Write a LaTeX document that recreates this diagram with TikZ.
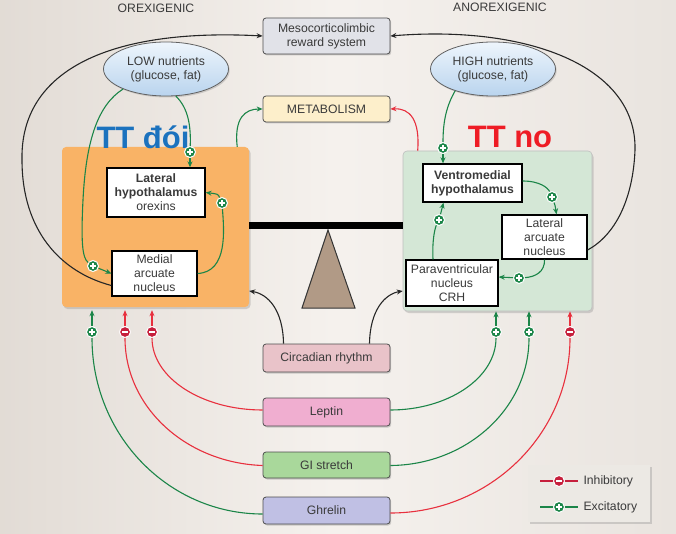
\documentclass[tikz,border=0pt]{standalone}
\usepackage{fontspec}
\setmainfont{Liberation Sans}
\usetikzlibrary{arrows.meta,shapes.geometric,shadows,calc}
\definecolor{grn}{HTML}{1B8548}
\definecolor{rd}{HTML}{E8303E}
\definecolor{crim}{HTML}{C61F3C}
\definecolor{txt}{HTML}{3A3A3A}
\definecolor{mesofill}{HTML}{E1E2E8}
\definecolor{metafill}{HTML}{FDEFCB}
\definecolor{orng}{HTML}{F9B366}
\definecolor{lgreen}{HTML}{D4E7D6}
\definecolor{circfill}{HTML}{E9C3C9}
\definecolor{lepfill}{HTML}{F0AED0}
\definecolor{gifill}{HTML}{A9D89B}
\definecolor{ghrfill}{HTML}{C0C0E4}
\definecolor{tanfill}{HTML}{B19A86}
\definecolor{ttblue}{HTML}{1B72BE}
\definecolor{ttred}{HTML}{EE1C25}
\definecolor{legfill}{HTML}{ECE9E4}
\definecolor{nuttop}{HTML}{EEF5FC}
\definecolor{nutbot}{HTML}{B9D4EE}
\begin{document}
\begin{tikzpicture}[x=1pt,y=-1pt,
  lbl/.style={draw=txt!90, line width=0.8pt, rounded corners=3pt, inner sep=0pt, align=center,
    text=txt, font=\fontsize{12.2}{14}\selectfont,
    drop shadow={opacity=0.35, shadow xshift=1.2pt, shadow yshift=-1.5pt}},
  nut/.style={ellipse, draw=txt!80, line width=0.8pt, inner sep=0pt, align=center, text=txt,
    top color=nuttop, bottom color=nutbot,
    minimum width=125pt, minimum height=54pt, font=\fontsize{12.2}{14}\selectfont,
    drop shadow={opacity=0.3, shadow xshift=1.2pt, shadow yshift=-1.5pt}},
  bigbox/.style={rounded corners=4pt, inner sep=0pt,
    drop shadow={opacity=0.3, shadow xshift=1.5pt, shadow yshift=-2pt}},
  wbox/.style={draw=black, line width=1.3pt, fill=white, inner sep=0pt, align=center, text=txt,
    font=\fontsize{12.2}{14}\selectfont},
  exc/.style={circle, fill=grn, draw=white, line width=1pt, minimum size=11pt, inner sep=0pt,
    path picture={\draw[white,line width=1.5pt]
      ([xshift=-2.7pt]path picture bounding box.center) -- ([xshift=2.7pt]path picture bounding box.center)
      ([yshift=-2.7pt]path picture bounding box.center) -- ([yshift=2.7pt]path picture bounding box.center);}},
  inh/.style={circle, fill=crim, draw=white, line width=1pt, minimum size=11pt, inner sep=0pt,
    path picture={\draw[white,line width=1.5pt]
      ([xshift=-2.7pt]path picture bounding box.center) -- ([xshift=2.7pt]path picture bounding box.center);}},
  tip/.style={-{Stealth[length=6pt,width=5pt]}},
  gline/.style={draw=grn, line width=1.1pt},
  rline/.style={draw=rd, line width=1.1pt},
  kline/.style={draw=black!85, line width=1.1pt}
]
% background
\useasboundingbox (0,0) rectangle (676,534);
\shade[left color=black!12!white!95!orange, right color=black!9!white!96!orange, middle color=black!4!white!97!orange] (0,0) rectangle (676,534);

% headings
\node[text=txt, font=\fontsize{12.2}{14}\selectfont] (orex) at (156,8) {OREXIGENIC};
\node[text=txt, font=\fontsize{12.2}{14}\selectfont] (anorex) at (500,7) {ANOREXIGENIC};

% top boxes
\node[lbl, fill=mesofill, minimum width=127pt, minimum height=36pt] (meso) at (326.5,36) {Mesocorticolimbic\\reward system};
\node[lbl, fill=metafill, minimum width=127pt, minimum height=26pt] (metab) at (326.5,109) {METABOLISM};
\node[nut] (low) at (166,69) {LOW nutrients\\(glucose, fat)};
\node[nut] (high) at (493,69) {HIGH nutrients\\(glucose, fat)};

% big boxes
\node[bigbox, fill=orng, minimum width=187pt, minimum height=160pt] (leftbox) at (155.5,227) {};
\node[bigbox, fill=lgreen, draw=black!25, line width=0.6pt, minimum width=189pt, minimum height=160pt] (rightbox) at (497.5,231) {};

% balance
\node[fill=black, inner sep=0pt, minimum width=154pt, minimum height=7pt] (beam) at (326,225.5) {};
\draw[fill=tanfill, draw=black!80, line width=1pt] (328,230) -- (302,308) -- (355,308) -- cycle;

% titles
\node[text=ttblue, font=\fontsize{31}{31}\selectfont\bfseries] (ttd) at (143,137) {TT đói};
\node[text=ttred, font=\fontsize{31}{31}\selectfont\bfseries] (ttn) at (510,137) {TT no};

% inner boxes
\node[wbox, minimum width=98pt, minimum height=49pt] (lh) at (156,192.5) {\textbf{Lateral}\\\textbf{hypothalamus}\\orexins};
\node[wbox, minimum width=85pt, minimum height=45pt] (mac) at (154.5,273.5) {Medial\\arcuate\\nucleus};
\node[wbox, minimum width=99pt, minimum height=38pt] (vmh) at (472.5,183) {\textbf{Ventromedial}\\\textbf{hypothalamus}};
\node[wbox, minimum width=85pt, minimum height=44pt] (lan) at (544.5,237) {Lateral\\arcuate\\nucleus};
\node[wbox, minimum width=92pt, minimum height=46pt] (pvn) at (452,283) {Paraventricular\\nucleus\\CRH};

% bottom boxes
\node[lbl, fill=circfill, minimum width=127pt, minimum height=28pt] (circ) at (326.5,358) {Circadian rhythm};
\node[lbl, fill=lepfill, minimum width=127pt, minimum height=28pt] (lep) at (326.5,412) {Leptin};
\node[lbl, fill=gifill, minimum width=127pt, minimum height=26pt] (gis) at (326.5,465) {GI stretch};
\node[lbl, fill=ghrfill, minimum width=127pt, minimum height=27pt] (ghr) at (326.5,510.5) {Ghrelin};

% legend
\node[fill=legfill, inner sep=0pt, minimum width=122pt, minimum height=57pt,
  drop shadow={opacity=0.3, shadow xshift=1.5pt, shadow yshift=-2pt}] (legend) at (589,493.5) {};

% markers
\node[exc] (p1) at (190,152) {};
\node[exc] (p2) at (93,266) {};
\node[exc] (p3) at (222,203) {};
\node[exc] (p4) at (443,148) {};
\node[exc] (p5) at (552,197) {};
\node[exc] (p6) at (519,278) {};
\node[exc] (p7) at (439,220) {};
\node[inh] (m1) at (152,332) {};
\node[inh] (m2) at (125,332) {};
\node[exc] (m3) at (92,332) {};
\node[exc] (r1) at (496,332) {};
\node[exc] (r2) at (529,332) {};
\node[inh] (r3) at (570,332) {};

% reward-system loops
\draw[kline, tip] ([yshift=-12pt]mac.west) .. controls (60,272) and (22,230) .. (22,160)
   .. controls (20,70) and (110,28) .. (meso.west);
\draw[kline, tip] ([yshift=-13pt]lan.east) .. controls (615,235) and (633,200) .. (635,150)
   .. controls (637,65) and (525,25) .. (meso.east);

% left circuit
\draw[gline] (low.-70) .. controls (188,108) and (191,125) .. (p1);
\draw[gline, tip] (p1) -- (p1 |- lh.north);
\draw[gline] (low.-155) .. controls (98,105) and (86,140) .. (83,200) .. controls (81,240) and (82,258) .. (p2);
\draw[gline, tip] (p2) -- (mac.west);
\draw[gline] (mac.east) .. controls (228,272) and (224,230) .. (p3);
\draw[gline, tip] (p3) .. controls (218,194) .. (lh.east);
\draw[gline, tip] ([xshift=-12pt]leftbox.north east) .. controls (234,118) and (245,109) .. (metab.west);

% right circuit
\draw[rline, tip] ([xshift=15pt]rightbox.north west) .. controls (420,120) and (410,108) .. (metab.east);
\draw[gline] (high.-150) .. controls (447,105) and (443,120) .. (p4);
\draw[gline, tip] (p4) -- (p4 |- vmh.north);
\draw[gline] ([yshift=2pt]vmh.east) .. controls (540,181) and (548,188) .. (p5);
\draw[gline, tip] (p5) .. controls (555,205) .. ([xshift=12pt]lan.north);
\draw[gline] (lan.south) .. controls (545,272) and (535,277) .. (p6);
\draw[gline, tip] (p6) -- ([yshift=6pt]pvn.east);
\draw[gline] ([xshift=-19pt]pvn.north) .. controls (432,240) and (435,228) .. (p7);
\draw[gline, tip] (p7) -- ([xshift=-29pt]vmh.south);

% circadian
\draw[kline, tip] ([xshift=-43pt]circ.north) .. controls (283,310) and (268,294) .. ([yshift=-64pt]leftbox.east);
\draw[kline, tip] ([xshift=43pt]circ.north) .. controls (370,310) and (385,294) .. ([yshift=-60pt]rightbox.west);

% hormonal inputs
\draw[rline] ([yshift=2pt]lep.west) .. controls (202,410) and (152,378) .. (m1);
\draw[rline] ([yshift=-0.5pt]gis.west) .. controls (187,463) and (125,408) .. (m2);
\draw[gline] ([yshift=-3.5pt]ghr.west) .. controls (169,514) and (92,436) .. (m3);
\draw[gline] ([yshift=2pt]lep.east) .. controls (448,410) and (496,378) .. (r1);
\draw[gline] ([yshift=-0.5pt]gis.east) .. controls (466,465) and (529,409) .. (r2);
\draw[rline] ([yshift=-2.5pt]ghr.east) .. controls (489,513) and (570,435) .. (r3);
\draw[rline, tip] (m1) -- ([yshift=-3pt]m1 |- leftbox.south);
\draw[rline, tip] (m2) -- ([yshift=-3pt]m2 |- leftbox.south);
\draw[gline, tip] (m3) -- ([yshift=-3pt]m3 |- leftbox.south);
\draw[gline, tip] (r1) -- (r1 |- rightbox.south);
\draw[gline, tip] (r2) -- (r2 |- rightbox.south);
\draw[rline, tip] (r3) -- (r3 |- rightbox.south);

% legend content
\coordinate (la1) at (540,481);
\coordinate (lb1) at (578,481);
\coordinate (la2) at (540,507);
\coordinate (lb2) at (578,507);
\draw[draw=crim, line width=1.1pt] (la1) -- (lb1);
\draw[gline] (la2) -- (lb2);
\node[inh] (lc1) at ($(la1)!0.5!(lb1)$) {};
\node[exc] (lc2) at ($(la2)!0.5!(lb2)$) {};
\node[anchor=west, text=txt, font=\fontsize{12.2}{14}\selectfont] (lt1) at (580,481) {Inhibitory};
\node[anchor=west, text=txt, font=\fontsize{12.2}{14}\selectfont] (lt2) at (580,507) {Excitatory};
\end{tikzpicture}
\end{document}
